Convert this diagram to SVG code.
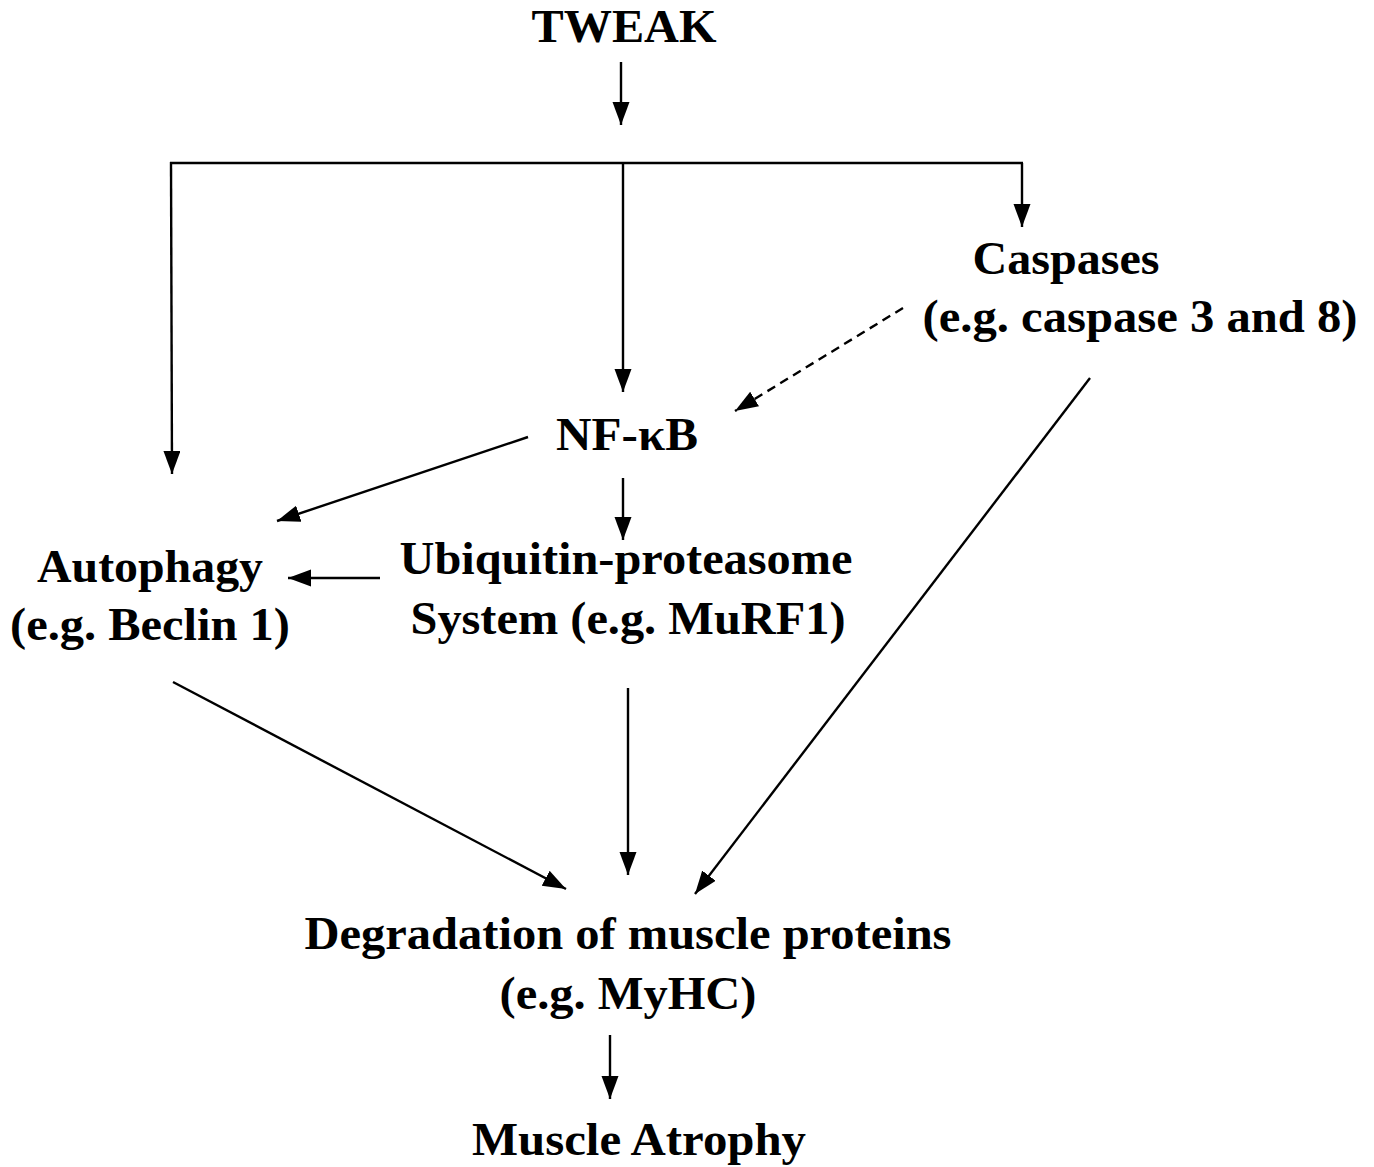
<svg xmlns="http://www.w3.org/2000/svg" width="1374" height="1167" viewBox="0 0 1374 1167">
<style>
text{font-family:"Liberation Serif","Times New Roman",serif;font-weight:bold;font-size:46px;fill:#000;text-anchor:middle}
.c{stroke:#000;stroke-width:2.4;fill:none}
.a{marker-end:url(#ah)}
.d{stroke-dasharray:9 6}
</style>
<defs>
<marker id="ah" markerUnits="userSpaceOnUse" markerWidth="26" markerHeight="18" refX="23" refY="8.5" orient="auto">
<path d="M0,0 L23,8.5 L0,17 Z" fill="#000"/>
</marker>
</defs>
<rect width="1374" height="1167" fill="#fff"/>
<g id="connectors">
<line class="c a" x1="621" y1="62" x2="621" y2="125"/>
<line class="c" x1="170" y1="163" x2="1023" y2="163"/>
<line class="c a" x1="171" y1="162" x2="172" y2="474"/>
<line class="c a" x1="623" y1="163" x2="623" y2="392"/>
<line class="c a" x1="1022" y1="163" x2="1022" y2="227"/>
<line class="c a d" x1="903" y1="308" x2="735" y2="411"/>
<line class="c a" x1="528" y1="437" x2="277" y2="521"/>
<line class="c a" x1="623" y1="478" x2="623" y2="540"/>
<line class="c a" x1="380" y1="578" x2="288" y2="578"/>
<line class="c a" x1="173" y1="682" x2="566" y2="889"/>
<line class="c a" x1="628" y1="688" x2="628" y2="875"/>
<line class="c a" x1="1090" y1="378" x2="695" y2="894"/>
<line class="c a" x1="610" y1="1035" x2="610" y2="1099"/>
</g>
<g id="tweak"><text x="624" y="42" textLength="185" lengthAdjust="spacingAndGlyphs">TWEAK</text></g>
<g id="caspases">
<text x="1066" y="274" textLength="187" lengthAdjust="spacingAndGlyphs">Caspases</text>
<text x="1140" y="332" textLength="435" lengthAdjust="spacingAndGlyphs">(e.g. caspase 3 and 8)</text>
</g>
<g id="nfkb"><text x="627" y="450" textLength="142" lengthAdjust="spacingAndGlyphs">NF-κB</text></g>
<g id="autophagy">
<text x="150" y="582" textLength="226" lengthAdjust="spacingAndGlyphs">Autophagy</text>
<text x="150" y="640" textLength="280" lengthAdjust="spacingAndGlyphs">(e.g. Beclin 1)</text>
</g>
<g id="ups">
<text x="626" y="574" textLength="453" lengthAdjust="spacingAndGlyphs">Ubiquitin-proteasome</text>
<text x="628" y="634" textLength="435" lengthAdjust="spacingAndGlyphs">System (e.g. MuRF1)</text>
</g>
<g id="degradation">
<text x="628" y="949" textLength="647" lengthAdjust="spacingAndGlyphs">Degradation of muscle proteins</text>
<text x="628" y="1009" textLength="257" lengthAdjust="spacingAndGlyphs">(e.g. MyHC)</text>
</g>
<g id="atrophy"><text x="639" y="1155" textLength="334" lengthAdjust="spacingAndGlyphs">Muscle Atrophy</text></g>
</svg>
